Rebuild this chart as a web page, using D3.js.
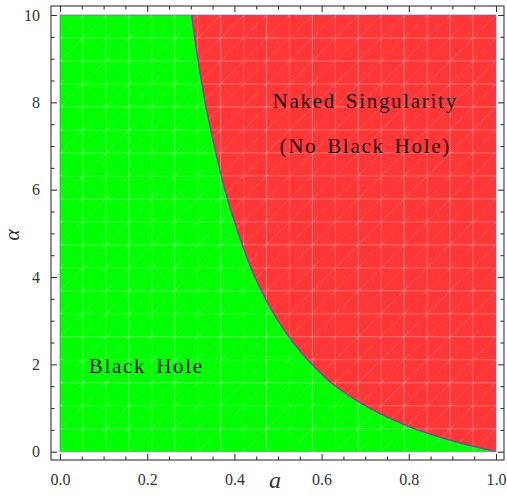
<!DOCTYPE html>
<html>
<head>
<meta charset="utf-8">
<script src="https://cdn.jsdelivr.net/npm/d3@7"></script>
<style>
  body { margin: 0; background: #fff; }
  text { font-family: "Liberation Serif", "DejaVu Serif", serif; }
</style>
</head>
<body>
<div id="chart"></div>
<script>
// boundary between the two regions
const alphaVals = [0, 0.25, 0.5, 0.75, 1, 1.5, 2, 2.5, 3, 4, 5, 6, 7, 8, 9, 10];
const aVals = [1.0, 0.9, 0.82, 0.76, 0.71, 0.632, 0.578, 0.535, 0.5, 0.447, 0.409, 0.378, 0.354, 0.333, 0.316, 0.302];

const xMajor = [0, 0.2, 0.4, 0.6, 0.8, 1.0];
const yMajor = [0, 2, 4, 6, 8, 10];

const regionLabels = [
  { lines: ["Naked Singularity", "(No Black Hole)"], a: 0.70, alpha: [7.87, 6.84] },
  { lines: ["Black Hole"], a: 0.198, alpha: [1.8] }
];

const W = 507, H = 500;
const frame = { left: 51, right: 504, top: 6, bottom: 460 };

const x = d3.scaleLinear().domain([0, 1]).range([60, 496]);
const y = d3.scaleLinear().domain([0, 10]).range([451.7, 15]);

const svg = d3.select("#chart").append("svg")
  .attr("width", W)
  .attr("height", H);

svg.append("clipPath").attr("id", "plotclip")
  .append("rect")
  .attr("x", x(0)).attr("y", y(10))
  .attr("width", x(1) - x(0)).attr("height", y(0) - y(10));

const plot = svg.append("g").attr("clip-path", "url(#plotclip)");

// green = black hole everywhere, red on the right of the curve
plot.append("rect")
  .attr("x", x(0)).attr("y", y(10))
  .attr("width", x(1) - x(0)).attr("height", y(0) - y(10))
  .attr("fill", "#00ff00");

const pts = alphaVals.map((al, i) => [aVals[i], al]);
const curve = d3.line()
  .x(d => x(d[0]))
  .y(d => y(d[1]))
  .curve(d3.curveMonotoneY);

// red region: curve from (1,0) up to the top, then back down the right edge
const curveD = curve(pts);
plot.append("path")
  .attr("d", curveD + "L" + x(1) + "," + y(10) + "Z")
  .attr("fill", "#ff3636");

// mesh lines (RegionPlot style)
const n = 19;
const x0 = x(0), x1 = x(1), y0 = y(0), y1 = y(10);
const cw = (x1 - x0) / n, ch = (y0 - y1) / n;
const mesh = plot.append("g").attr("stroke", "#fff").attr("fill", "none");
for (let i = 1; i < n; i++) {
  mesh.append("line")
    .attr("x1", x0 + i * cw).attr("x2", x0 + i * cw)
    .attr("y1", y1).attr("y2", y0)
    .attr("stroke-opacity", 0.3).attr("stroke-width", 1);
  mesh.append("line")
    .attr("y1", y1 + i * ch).attr("y2", y1 + i * ch)
    .attr("x1", x0).attr("x2", x1)
    .attr("stroke-opacity", 0.3).attr("stroke-width", 1);
}
for (let k = -n; k < n; k++) {
  mesh.append("line")
    .attr("x1", x0 + k * cw).attr("y1", y0)
    .attr("x2", x0 + (k + n) * cw).attr("y2", y1)
    .attr("stroke-opacity", 0.22).attr("stroke-width", 0.8);
}

// boundary line
plot.append("path")
  .attr("d", curveD)
  .attr("fill", "none")
  .attr("stroke", "#6650a8")
  .attr("stroke-width", 1.4);

svg.append("rect")
  .attr("x", x0).attr("y", y1)
  .attr("width", x1 - x0).attr("height", y0 - y1)
  .attr("fill", "none")
  .attr("stroke", "#7a64b8")
  .attr("stroke-opacity", 0.7)
  .attr("stroke-width", 1);

// region labels
regionLabels.forEach(lb => {
  lb.lines.forEach((t, i) => {
    svg.append("text")
      .attr("x", x(lb.a))
      .attr("y", y(lb.alpha[i]))
      .attr("text-anchor", "middle")
      .attr("font-size", "21px")
      .attr("letter-spacing", "1.7px")
      .attr("word-spacing", "3px")
      .attr("fill", "#111")
      .text(t);
  });
});

// frame
svg.append("rect")
  .attr("x", frame.left).attr("y", frame.top)
  .attr("width", frame.right - frame.left).attr("height", frame.bottom - frame.top)
  .attr("fill", "none")
  .attr("stroke", "#333")
  .attr("stroke-width", 1.1);

const xMinor = d3.range(0, 1.0001, 0.05).filter(v => !xMajor.some(m => Math.abs(m - v) < 1e-6));
const yMinor = d3.range(0, 10.001, 0.5).filter(v => !yMajor.some(m => Math.abs(m - v) < 1e-6));

function styleAxis(g) {
  g.select(".domain").remove();
  g.selectAll(".tick line").attr("stroke", "#333").attr("stroke-width", 1.1);
  g.selectAll(".tick text")
    .attr("font-family", "'Liberation Serif', serif")
    .attr("font-size", "16px")
    .attr("fill", "#333");
}

// bottom
svg.append("g").attr("transform", `translate(0,${frame.bottom})`)
  .call(d3.axisBottom(x).tickValues(xMajor).tickSize(-6).tickPadding(14).tickFormat(d3.format(".1f")))
  .call(styleAxis);
svg.append("g").attr("transform", `translate(0,${frame.bottom})`)
  .call(d3.axisBottom(x).tickValues(xMinor).tickSize(-3.5).tickFormat(""))
  .call(styleAxis);
// top
svg.append("g").attr("transform", `translate(0,${frame.top})`)
  .call(d3.axisTop(x).tickValues(xMajor).tickSize(-6).tickFormat(""))
  .call(styleAxis);
svg.append("g").attr("transform", `translate(0,${frame.top})`)
  .call(d3.axisTop(x).tickValues(xMinor).tickSize(-3.5).tickFormat(""))
  .call(styleAxis);
// left
svg.append("g").attr("transform", `translate(${frame.left},0)`)
  .call(d3.axisLeft(y).tickValues(yMajor).tickSize(-6).tickPadding(11).tickFormat(d3.format("d")))
  .call(styleAxis);
svg.append("g").attr("transform", `translate(${frame.left},0)`)
  .call(d3.axisLeft(y).tickValues(yMinor).tickSize(-3.5).tickFormat(""))
  .call(styleAxis);
// right
svg.append("g").attr("transform", `translate(${frame.right},0)`)
  .call(d3.axisRight(y).tickValues(yMajor).tickSize(-6).tickFormat(""))
  .call(styleAxis);
svg.append("g").attr("transform", `translate(${frame.right},0)`)
  .call(d3.axisRight(y).tickValues(yMinor).tickSize(-3.5).tickFormat(""))
  .call(styleAxis);

// axis titles
svg.append("text")
  .attr("x", 275).attr("y", 488)
  .attr("text-anchor", "middle")
  .attr("font-style", "italic")
  .attr("font-size", "24px")
  .attr("fill", "#333")
  .text("a");

svg.append("text")
  .attr("transform", "translate(19,235) rotate(-90)")
  .attr("text-anchor", "middle")
  .attr("font-style", "italic")
  .attr("font-size", "22px")
  .attr("fill", "#333")
  .text("α");
</script>
</body>
</html>
